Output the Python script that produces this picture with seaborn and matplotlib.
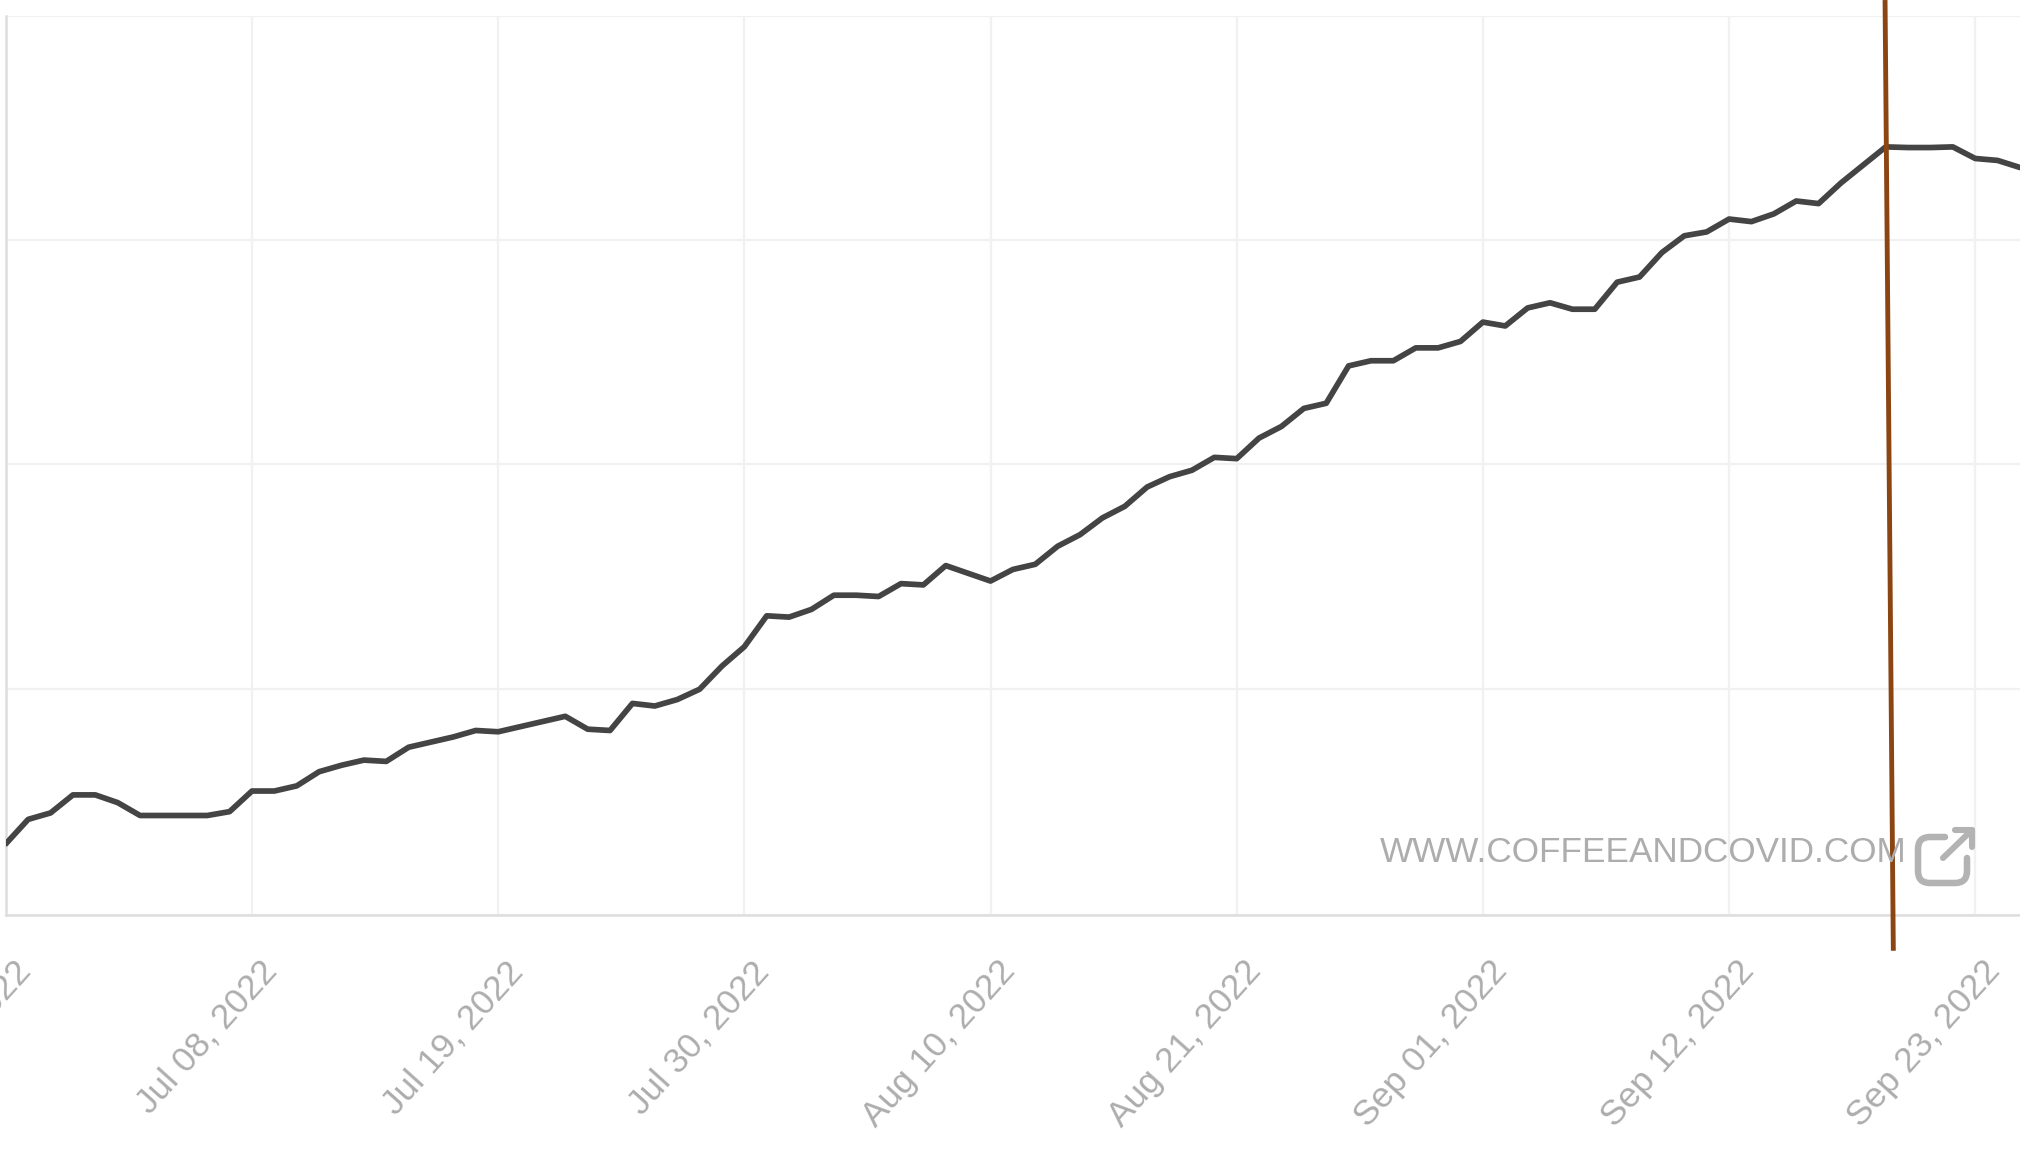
import numpy as np
import pandas as pd
import matplotlib
matplotlib.use("Agg")
import matplotlib.pyplot as plt
from matplotlib.lines import Line2D
from matplotlib.patches import PathPatch
from matplotlib.path import Path
from matplotlib.transforms import ScaledTranslation
import seaborn as sns

# ── data (y axis has no labels in the source, values are in relative units) ──
start_date = "2022-06-27"
values = [55, 74, 79, 93, 93, 87, 77, 77, 77, 77, 80, 96, 96, 100, 111, 116, 120, 119,
          130, 134, 138, 143, 142, 146, 150, 154, 144, 143, 164, 162, 167, 175, 193, 208,
          232, 231, 237, 248, 248, 247, 257, 256, 271, 265, 259, 268, 272, 286, 295, 308,
          317, 332, 340, 345, 355, 354, 370, 379, 393, 397, 426, 430, 430, 440, 440, 445,
          460, 457, 471, 475, 470, 470, 491, 495, 514, 527, 530, 540, 538, 544, 554, 552,
          568, 582, 596, 595.5, 595.5, 596, 587, 585.5, 580]
tick_dates = ["2022-06-27", "2022-07-08", "2022-07-19", "2022-07-30", "2022-08-10",
              "2022-08-21", "2022-09-01", "2022-09-12", "2022-09-23"]
y_grid = [0, 175, 350, 524, 698]
marker_days = [83.97, 84.34]
marker_vals = [710, -28]
watermark = "WWW.COFFEEANDCOVID.COM"

dates = pd.date_range(start_date, periods=len(values), freq="D")
df = pd.DataFrame({"date": dates, "value": values})
start = pd.Timestamp(start_date)

W, H = 2020, 1154
sns.set_theme(style="whitegrid")
plt.rcParams["font.family"] = ["Liberation Sans", "DejaVu Sans"]

fig = plt.figure(figsize=(W / 100, H / 100), dpi=100, facecolor="white")
ax = fig.add_axes([5.8 / W, 1 - 914.7 / H, (W - 5.8) / W, (914.7 - 15.5) / H])

sns.lineplot(data=df, x="date", y="value", ax=ax, color="#444444", linewidth=4.1, zorder=3)

ax.set_xlim(start, start + pd.Timedelta(days=90.0))
ax.set_ylim(0, 698)
ax.set_xlabel("")
ax.set_ylabel("")
ax.set_yticks(y_grid)
ax.set_yticklabels([])
ax.set_xticks(pd.to_datetime(tick_dates))
ax.set_xticklabels(pd.to_datetime(tick_dates).strftime("%b %d, %Y"))
ax.grid(True, color="#f1f1f1", linewidth=1.6)
ax.tick_params(axis="y", length=0)
ax.tick_params(axis="x", length=16, width=1.6, color="#f1f1f1", pad=21)
shift = ScaledTranslation(19 / 100, 0, fig.dpi_scale_trans)
for lab in ax.get_xticklabels():
    lab.set_rotation(48)
    lab.set_rotation_mode("anchor")
    lab.set_ha("right")
    lab.set_va("center")
    lab.set_fontsize(25.5)
    lab.set_color("#adadad")
    lab.set_transform(lab.get_transform() + shift)

for side in ["top", "right"]:
    ax.spines[side].set_visible(False)
for side in ["left", "bottom"]:
    ax.spines[side].set_color("#dedede")
    ax.spines[side].set_linewidth(1.8)

# hand drawn marker line, runs past the plot area on both ends
marker_x = [start + pd.Timedelta(days=d) for d in marker_days]
ax.plot(marker_x, marker_vals, color="#8B4513", linewidth=3.5, clip_on=False, zorder=5,
        solid_capstyle="butt")

# ── watermark + link icon ──
fig.text(1380 / W, 1 - 852.5 / H, watermark, fontsize=25.3, color="#adadad", ha="left", va="center")


def px_xy(x, y):
    return (x / W, 1 - y / H)


# box with rounded corners and an open top right side
box = [(1945, 837), (1930, 837), (1918, 837), (1918, 849), (1918, 871), (1918, 883), (1930, 883),
       (1955, 883), (1967, 883), (1967, 871), (1967, 858)]
box_codes = [Path.MOVETO, Path.LINETO, Path.CURVE3, Path.CURVE3, Path.LINETO, Path.CURVE3, Path.CURVE3,
             Path.LINETO, Path.CURVE3, Path.CURVE3, Path.LINETO]
fig.add_artist(PathPatch(Path([px_xy(*p) for p in box], box_codes), fill=False, edgecolor="#b3b3b3",
                         linewidth=4.7, capstyle="round", joinstyle="round",
                         transform=fig.transFigure))


def px_line(xs, ys):
    fig.add_artist(Line2D([x / W for x in xs], [1 - y / H for y in ys], color="#b3b3b3",
                          linewidth=4.4, solid_joinstyle="round", solid_capstyle="round"))


px_line([1943, 1972], [858, 830])
px_line([1955, 1972, 1972], [830, 830, 847])

fig.savefig("out.png", dpi=100)
